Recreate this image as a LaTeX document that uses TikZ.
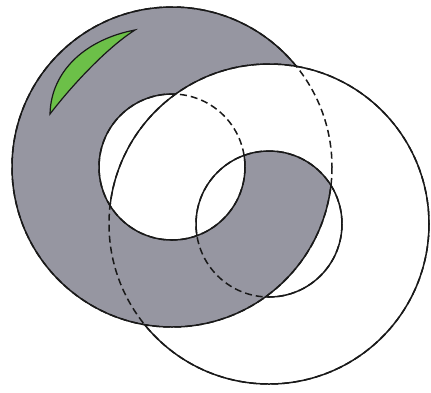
\documentclass[tikz,border=0pt]{standalone}
\usetikzlibrary{calc}

\definecolor{ringgray}{RGB}{150,150,161}
\definecolor{leafgreen}{RGB}{108,192,72}

\begin{document}
\begin{tikzpicture}[x=1pt,y=-1pt,line width=1.5pt,
  rim/.style={draw=black!90},
  hidden/.style={draw=black!90,dash pattern=on 7pt off 4pt},
  upper half/.style={insert path={(-100,7.2) -- (600,418.5) -- (600,-300) -- (-100,-300) -- cycle}},
  lower half/.style={insert path={(-100,7.2) -- (600,418.5) -- (600,700) -- (-100,700) -- cycle}}]
  \useasboundingbox[fill=white] (0,0) rectangle (431,392);
  \coordinate (A) at (172,167);
  \coordinate (B) at (269,224);

  % grey ring
  \fill[ringgray,even odd rule] (A) circle (160) (A) circle (73);
  % white ring, over the grey one on the upper side
  \begin{scope}
    \clip[upper half];
    \fill[white,even odd rule] (B) circle (160) (B) circle (73);
  \end{scope}
  % green sliver
  \draw[rim,fill=leafgreen,line width=1.2pt] (50,114) .. controls (51,70) and (87,39) .. (135,30)
    .. controls (108,47) and (73,84) .. cycle;

  % hidden edges first
  \draw[hidden] (A) circle (160) (A) circle (73) (B) circle (160) (B) circle (73);

  % visible edges of the grey ring
  \begin{scope}
    \clip[lower half];
    \draw[rim] (A) circle (160) (A) circle (73);
  \end{scope}
  \begin{scope}
    \clip[upper half];
    \clip (B) circle (73);
    \draw[rim] (A) circle (160) (A) circle (73);
  \end{scope}
  \begin{scope}[even odd rule]
    \clip[upper half];
    \clip (-100,-100) rectangle (600,600) (B) circle (160);
    \draw[rim] (A) circle (160) (A) circle (73);
  \end{scope}

  % visible edges of the white ring
  \begin{scope}
    \clip[upper half];
    \draw[rim] (B) circle (160) (B) circle (73);
  \end{scope}
  \begin{scope}
    \clip[lower half];
    \clip (A) circle (73);
    \draw[rim] (B) circle (160) (B) circle (73);
  \end{scope}
  \begin{scope}[even odd rule]
    \clip[lower half];
    \clip (-100,-100) rectangle (600,600) (A) circle (160);
    \draw[rim] (B) circle (160) (B) circle (73);
  \end{scope}
\end{tikzpicture}
\end{document}
